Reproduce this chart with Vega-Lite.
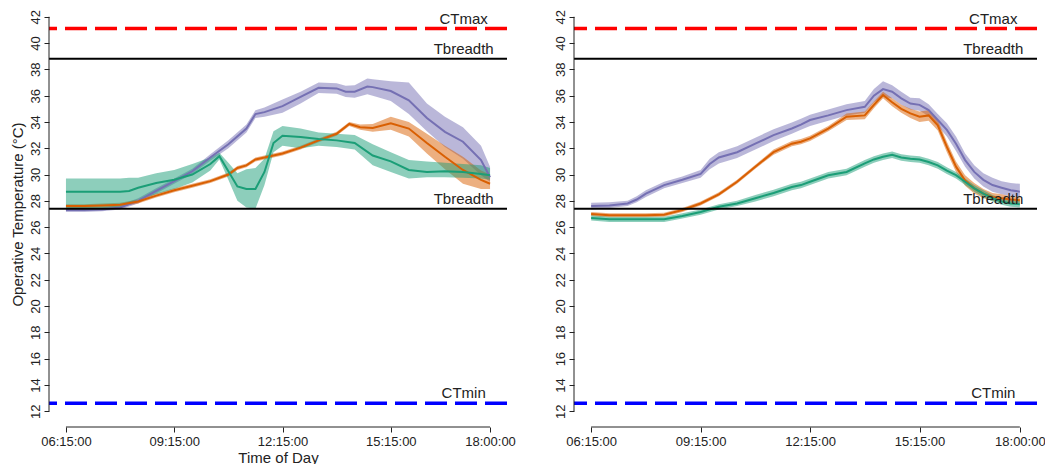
{
  "$schema": "https://vega.github.io/schema/vega-lite/v6.json",
  "padding": {"left": 9, "top": 1, "right": 4, "bottom": 0},
  "spacing": 37,
  "config": {
    "view": {"stroke": null},
    "font": "Liberation Sans",
    "axis": {
      "labelFont": "Liberation Sans", "labelFontSize": 13, "labelColor": "#222", "labelOverlap": false,
      "titleFont": "Liberation Sans", "titleFontSize": 15, "titleFontWeight": "normal", "titleColor": "#222",
      "tickColor": "#222", "tickSize": 5, "grid": false, "domain": false
    }
  },
  "datasets": {
    "refs": [
      {"label": "CTmax", "v": 41.1},
      {"label": "Tbreadth", "v": 38.8},
      {"label": "Tbreadth", "v": 27.4},
      {"label": "CTmin", "v": 12.6}
    ],
    "left": [
      {"s": "P", "t": 6.25, "m": 27.3, "lo": 27.15, "hi": 27.45},
      {"s": "P", "t": 6.75, "m": 27.3, "lo": 27.15, "hi": 27.45},
      {"s": "P", "t": 7.25, "m": 27.35, "lo": 27.2, "hi": 27.5},
      {"s": "P", "t": 7.75, "m": 27.5, "lo": 27.35, "hi": 27.7},
      {"s": "P", "t": 8.25, "m": 28.0, "lo": 27.8, "hi": 28.2},
      {"s": "P", "t": 8.75, "m": 28.75, "lo": 28.55, "hi": 28.95},
      {"s": "P", "t": 9.25, "m": 29.5, "lo": 29.3, "hi": 29.7},
      {"s": "P", "t": 9.75, "m": 30.25, "lo": 30.05, "hi": 30.45},
      {"s": "P", "t": 10.25, "m": 31.3, "lo": 31.05, "hi": 31.55},
      {"s": "P", "t": 10.75, "m": 32.3, "lo": 32.0, "hi": 32.6},
      {"s": "P", "t": 11.25, "m": 33.5, "lo": 33.2, "hi": 33.8},
      {"s": "P", "t": 11.5, "m": 34.6, "lo": 34.3, "hi": 34.9},
      {"s": "P", "t": 11.75, "m": 34.75, "lo": 34.4, "hi": 35.1},
      {"s": "P", "t": 12.25, "m": 35.2, "lo": 34.7, "hi": 35.7},
      {"s": "P", "t": 12.75, "m": 35.9, "lo": 35.4, "hi": 36.3},
      {"s": "P", "t": 13.25, "m": 36.6, "lo": 36.2, "hi": 37.0},
      {"s": "P", "t": 13.75, "m": 36.55, "lo": 36.15, "hi": 36.95},
      {"s": "P", "t": 14.0, "m": 36.3, "lo": 35.9, "hi": 36.75},
      {"s": "P", "t": 14.25, "m": 36.3, "lo": 35.85, "hi": 36.8},
      {"s": "P", "t": 14.6, "m": 36.7, "lo": 36.1, "hi": 37.3},
      {"s": "P", "t": 14.75, "m": 36.65, "lo": 36.0, "hi": 37.25},
      {"s": "P", "t": 15.25, "m": 36.35, "lo": 35.6, "hi": 37.1},
      {"s": "P", "t": 15.75, "m": 35.65, "lo": 34.6, "hi": 37.0},
      {"s": "P", "t": 16.25, "m": 34.3, "lo": 33.3, "hi": 35.4},
      {"s": "P", "t": 16.75, "m": 33.25, "lo": 32.1, "hi": 34.4},
      {"s": "P", "t": 17.25, "m": 32.5, "lo": 31.2, "hi": 33.6},
      {"s": "P", "t": 17.75, "m": 31.1, "lo": 29.95, "hi": 32.2},
      {"s": "P", "t": 18.0, "m": 29.8, "lo": 29.45, "hi": 30.6},

      {"s": "O", "t": 6.25, "m": 27.6, "lo": 27.45, "hi": 27.75},
      {"s": "O", "t": 6.75, "m": 27.6, "lo": 27.45, "hi": 27.75},
      {"s": "O", "t": 7.25, "m": 27.65, "lo": 27.5, "hi": 27.8},
      {"s": "O", "t": 7.75, "m": 27.7, "lo": 27.55, "hi": 27.85},
      {"s": "O", "t": 8.25, "m": 27.95, "lo": 27.8, "hi": 28.1},
      {"s": "O", "t": 8.75, "m": 28.4, "lo": 28.25, "hi": 28.55},
      {"s": "O", "t": 9.25, "m": 28.8, "lo": 28.65, "hi": 28.95},
      {"s": "O", "t": 9.75, "m": 29.15, "lo": 29.0, "hi": 29.3},
      {"s": "O", "t": 10.25, "m": 29.5, "lo": 29.35, "hi": 29.65},
      {"s": "O", "t": 10.75, "m": 30.0, "lo": 29.85, "hi": 30.15},
      {"s": "O", "t": 11.0, "m": 30.5, "lo": 30.35, "hi": 30.65},
      {"s": "O", "t": 11.25, "m": 30.7, "lo": 30.55, "hi": 30.85},
      {"s": "O", "t": 11.5, "m": 31.15, "lo": 31.0, "hi": 31.3},
      {"s": "O", "t": 11.75, "m": 31.3, "lo": 31.15, "hi": 31.45},
      {"s": "O", "t": 12.25, "m": 31.6, "lo": 31.45, "hi": 31.75},
      {"s": "O", "t": 12.75, "m": 32.05, "lo": 31.9, "hi": 32.2},
      {"s": "O", "t": 13.25, "m": 32.6, "lo": 32.45, "hi": 32.75},
      {"s": "O", "t": 13.75, "m": 33.1, "lo": 32.95, "hi": 33.25},
      {"s": "O", "t": 14.1, "m": 33.85, "lo": 33.7, "hi": 34.0},
      {"s": "O", "t": 14.4, "m": 33.6, "lo": 33.4, "hi": 33.8},
      {"s": "O", "t": 14.75, "m": 33.55, "lo": 33.25, "hi": 33.85},
      {"s": "O", "t": 15.25, "m": 33.9, "lo": 33.4, "hi": 34.4},
      {"s": "O", "t": 15.75, "m": 33.5, "lo": 32.9, "hi": 34.0},
      {"s": "O", "t": 16.25, "m": 32.4, "lo": 31.6, "hi": 33.1},
      {"s": "O", "t": 16.75, "m": 31.35, "lo": 30.4, "hi": 32.2},
      {"s": "O", "t": 17.25, "m": 30.35, "lo": 29.3, "hi": 31.35},
      {"s": "O", "t": 17.75, "m": 29.6, "lo": 28.9, "hi": 30.3},
      {"s": "O", "t": 18.0, "m": 29.3, "lo": 28.9, "hi": 30.0},

      {"s": "G", "t": 6.25, "m": 28.7, "lo": 27.45, "hi": 29.7},
      {"s": "G", "t": 6.75, "m": 28.7, "lo": 27.45, "hi": 29.7},
      {"s": "G", "t": 7.25, "m": 28.7, "lo": 27.45, "hi": 29.7},
      {"s": "G", "t": 7.75, "m": 28.7, "lo": 27.5, "hi": 29.7},
      {"s": "G", "t": 8.0, "m": 28.75, "lo": 27.7, "hi": 29.75},
      {"s": "G", "t": 8.25, "m": 29.0, "lo": 28.1, "hi": 29.75},
      {"s": "G", "t": 8.75, "m": 29.35, "lo": 28.5, "hi": 30.1},
      {"s": "G", "t": 9.25, "m": 29.6, "lo": 28.9, "hi": 30.35},
      {"s": "G", "t": 9.75, "m": 30.0, "lo": 29.4, "hi": 30.8},
      {"s": "G", "t": 10.25, "m": 30.8, "lo": 30.3, "hi": 31.3},
      {"s": "G", "t": 10.5, "m": 31.4, "lo": 31.15, "hi": 31.65},
      {"s": "G", "t": 10.75, "m": 30.25, "lo": 29.6, "hi": 30.9},
      {"s": "G", "t": 11.0, "m": 29.1, "lo": 28.0, "hi": 30.1},
      {"s": "G", "t": 11.25, "m": 28.9, "lo": 27.5, "hi": 30.4},
      {"s": "G", "t": 11.5, "m": 28.9, "lo": 27.4, "hi": 30.5},
      {"s": "G", "t": 11.75, "m": 30.2, "lo": 29.2, "hi": 31.2},
      {"s": "G", "t": 12.0, "m": 32.4, "lo": 31.7, "hi": 33.3},
      {"s": "G", "t": 12.25, "m": 32.95, "lo": 32.2, "hi": 33.7},
      {"s": "G", "t": 12.75, "m": 32.85, "lo": 32.0, "hi": 33.5},
      {"s": "G", "t": 13.25, "m": 32.7, "lo": 32.2, "hi": 33.2},
      {"s": "G", "t": 13.75, "m": 32.6, "lo": 32.1, "hi": 33.1},
      {"s": "G", "t": 14.25, "m": 32.4, "lo": 31.9, "hi": 33.0},
      {"s": "G", "t": 14.75, "m": 31.45, "lo": 30.7, "hi": 32.3},
      {"s": "G", "t": 15.25, "m": 31.0, "lo": 30.2, "hi": 31.7},
      {"s": "G", "t": 15.75, "m": 30.35, "lo": 29.7, "hi": 31.1},
      {"s": "G", "t": 16.25, "m": 30.2, "lo": 29.8, "hi": 31.0},
      {"s": "G", "t": 16.75, "m": 30.25, "lo": 29.8, "hi": 30.9},
      {"s": "G", "t": 17.25, "m": 30.2, "lo": 29.75, "hi": 30.8},
      {"s": "G", "t": 17.75, "m": 30.05, "lo": 29.7, "hi": 30.7},
      {"s": "G", "t": 18.0, "m": 29.95, "lo": 29.6, "hi": 30.5}
    ],
    "right": [
      {"s": "P", "t": 6.25, "m": 27.6, "lo": 27.35, "hi": 27.85},
      {"s": "P", "t": 6.75, "m": 27.65, "lo": 27.45, "hi": 27.9},
      {"s": "P", "t": 7.25, "m": 27.8, "lo": 27.6, "hi": 28.0},
      {"s": "P", "t": 7.5, "m": 28.1, "lo": 27.9, "hi": 28.35},
      {"s": "P", "t": 7.75, "m": 28.55, "lo": 28.3, "hi": 28.8},
      {"s": "P", "t": 8.25, "m": 29.2, "lo": 28.95, "hi": 29.45},
      {"s": "P", "t": 8.75, "m": 29.6, "lo": 29.35, "hi": 29.85},
      {"s": "P", "t": 9.25, "m": 30.05, "lo": 29.75, "hi": 30.35},
      {"s": "P", "t": 9.5, "m": 30.8, "lo": 30.4, "hi": 31.2},
      {"s": "P", "t": 9.75, "m": 31.3, "lo": 30.85, "hi": 31.7},
      {"s": "P", "t": 10.25, "m": 31.7, "lo": 31.25, "hi": 32.15},
      {"s": "P", "t": 10.75, "m": 32.35, "lo": 31.9, "hi": 32.8},
      {"s": "P", "t": 11.25, "m": 33.0, "lo": 32.55, "hi": 33.45},
      {"s": "P", "t": 11.75, "m": 33.5, "lo": 33.1, "hi": 33.95},
      {"s": "P", "t": 12.0, "m": 33.8, "lo": 33.4, "hi": 34.25},
      {"s": "P", "t": 12.25, "m": 34.15, "lo": 33.7, "hi": 34.55},
      {"s": "P", "t": 12.75, "m": 34.5, "lo": 34.1, "hi": 34.95},
      {"s": "P", "t": 13.25, "m": 34.9, "lo": 34.5, "hi": 35.35},
      {"s": "P", "t": 13.75, "m": 35.15, "lo": 34.7, "hi": 35.6},
      {"s": "P", "t": 14.0, "m": 36.0, "lo": 35.5, "hi": 36.5},
      {"s": "P", "t": 14.25, "m": 36.5, "lo": 35.9, "hi": 37.1},
      {"s": "P", "t": 14.5, "m": 36.3, "lo": 35.8, "hi": 36.8},
      {"s": "P", "t": 14.75, "m": 35.8, "lo": 35.3, "hi": 36.3},
      {"s": "P", "t": 15.0, "m": 35.4, "lo": 34.95, "hi": 35.85},
      {"s": "P", "t": 15.25, "m": 35.3, "lo": 34.85, "hi": 35.8},
      {"s": "P", "t": 15.5, "m": 34.9, "lo": 34.45, "hi": 35.35},
      {"s": "P", "t": 15.75, "m": 34.15, "lo": 33.7, "hi": 34.6},
      {"s": "P", "t": 16.0, "m": 33.4, "lo": 32.9, "hi": 33.9},
      {"s": "P", "t": 16.25, "m": 32.35, "lo": 31.8, "hi": 32.9},
      {"s": "P", "t": 16.5, "m": 31.1, "lo": 30.6, "hi": 31.6},
      {"s": "P", "t": 16.75, "m": 30.2, "lo": 29.7, "hi": 30.7},
      {"s": "P", "t": 17.0, "m": 29.6, "lo": 29.1, "hi": 30.1},
      {"s": "P", "t": 17.25, "m": 29.2, "lo": 28.7, "hi": 29.75},
      {"s": "P", "t": 17.5, "m": 29.0, "lo": 28.5, "hi": 29.5},
      {"s": "P", "t": 17.75, "m": 28.8, "lo": 28.35, "hi": 29.35},
      {"s": "P", "t": 18.0, "m": 28.7, "lo": 28.3, "hi": 29.3},

      {"s": "O", "t": 6.25, "m": 27.0, "lo": 26.85, "hi": 27.15},
      {"s": "O", "t": 6.75, "m": 26.9, "lo": 26.75, "hi": 27.05},
      {"s": "O", "t": 7.25, "m": 26.9, "lo": 26.75, "hi": 27.05},
      {"s": "O", "t": 7.75, "m": 26.9, "lo": 26.75, "hi": 27.05},
      {"s": "O", "t": 8.25, "m": 26.95, "lo": 26.8, "hi": 27.1},
      {"s": "O", "t": 8.75, "m": 27.3, "lo": 27.15, "hi": 27.45},
      {"s": "O", "t": 9.25, "m": 27.8, "lo": 27.65, "hi": 27.95},
      {"s": "O", "t": 9.75, "m": 28.5, "lo": 28.35, "hi": 28.65},
      {"s": "O", "t": 10.25, "m": 29.45, "lo": 29.3, "hi": 29.6},
      {"s": "O", "t": 10.75, "m": 30.6, "lo": 30.45, "hi": 30.75},
      {"s": "O", "t": 11.25, "m": 31.7, "lo": 31.5, "hi": 31.9},
      {"s": "O", "t": 11.75, "m": 32.35, "lo": 32.15, "hi": 32.55},
      {"s": "O", "t": 12.0, "m": 32.5, "lo": 32.3, "hi": 32.7},
      {"s": "O", "t": 12.25, "m": 32.75, "lo": 32.55, "hi": 32.95},
      {"s": "O", "t": 12.75, "m": 33.5, "lo": 33.3, "hi": 33.7},
      {"s": "O", "t": 13.25, "m": 34.4, "lo": 34.15, "hi": 34.65},
      {"s": "O", "t": 13.75, "m": 34.5, "lo": 34.2, "hi": 34.8},
      {"s": "O", "t": 14.0, "m": 35.3, "lo": 35.05, "hi": 35.55},
      {"s": "O", "t": 14.25, "m": 36.05, "lo": 35.8, "hi": 36.3},
      {"s": "O", "t": 14.5, "m": 35.5, "lo": 35.2, "hi": 35.8},
      {"s": "O", "t": 14.75, "m": 35.0, "lo": 34.7, "hi": 35.3},
      {"s": "O", "t": 15.0, "m": 34.65, "lo": 34.3, "hi": 35.0},
      {"s": "O", "t": 15.25, "m": 34.4, "lo": 34.0, "hi": 34.8},
      {"s": "O", "t": 15.5, "m": 34.5, "lo": 34.1, "hi": 34.9},
      {"s": "O", "t": 15.75, "m": 33.75, "lo": 33.35, "hi": 34.15},
      {"s": "O", "t": 16.0, "m": 32.1, "lo": 31.7, "hi": 32.5},
      {"s": "O", "t": 16.25, "m": 30.6, "lo": 30.2, "hi": 31.0},
      {"s": "O", "t": 16.5, "m": 29.55, "lo": 29.15, "hi": 29.95},
      {"s": "O", "t": 16.75, "m": 28.95, "lo": 28.55, "hi": 29.35},
      {"s": "O", "t": 17.0, "m": 28.55, "lo": 28.2, "hi": 28.9},
      {"s": "O", "t": 17.25, "m": 28.3, "lo": 28.0, "hi": 28.6},
      {"s": "O", "t": 17.5, "m": 28.2, "lo": 27.9, "hi": 28.5},
      {"s": "O", "t": 17.75, "m": 28.1, "lo": 27.85, "hi": 28.35},
      {"s": "O", "t": 18.0, "m": 28.05, "lo": 27.8, "hi": 28.3},

      {"s": "G", "t": 6.25, "m": 26.7, "lo": 26.5, "hi": 26.9},
      {"s": "G", "t": 6.75, "m": 26.6, "lo": 26.4, "hi": 26.8},
      {"s": "G", "t": 7.25, "m": 26.6, "lo": 26.4, "hi": 26.8},
      {"s": "G", "t": 7.75, "m": 26.6, "lo": 26.4, "hi": 26.8},
      {"s": "G", "t": 8.25, "m": 26.6, "lo": 26.4, "hi": 26.8},
      {"s": "G", "t": 8.75, "m": 26.85, "lo": 26.65, "hi": 27.05},
      {"s": "G", "t": 9.25, "m": 27.15, "lo": 26.95, "hi": 27.35},
      {"s": "G", "t": 9.75, "m": 27.55, "lo": 27.35, "hi": 27.75},
      {"s": "G", "t": 10.25, "m": 27.8, "lo": 27.6, "hi": 28.0},
      {"s": "G", "t": 10.75, "m": 28.2, "lo": 27.95, "hi": 28.45},
      {"s": "G", "t": 11.25, "m": 28.6, "lo": 28.35, "hi": 28.85},
      {"s": "G", "t": 11.75, "m": 29.05, "lo": 28.8, "hi": 29.3},
      {"s": "G", "t": 12.0, "m": 29.2, "lo": 28.95, "hi": 29.45},
      {"s": "G", "t": 12.25, "m": 29.45, "lo": 29.2, "hi": 29.7},
      {"s": "G", "t": 12.75, "m": 29.95, "lo": 29.7, "hi": 30.2},
      {"s": "G", "t": 13.25, "m": 30.2, "lo": 29.95, "hi": 30.45},
      {"s": "G", "t": 13.75, "m": 30.85, "lo": 30.6, "hi": 31.1},
      {"s": "G", "t": 14.0, "m": 31.15, "lo": 30.9, "hi": 31.4},
      {"s": "G", "t": 14.25, "m": 31.35, "lo": 31.1, "hi": 31.6},
      {"s": "G", "t": 14.5, "m": 31.5, "lo": 31.25, "hi": 31.75},
      {"s": "G", "t": 14.75, "m": 31.3, "lo": 31.05, "hi": 31.55},
      {"s": "G", "t": 15.0, "m": 31.2, "lo": 30.95, "hi": 31.45},
      {"s": "G", "t": 15.25, "m": 31.15, "lo": 30.9, "hi": 31.4},
      {"s": "G", "t": 15.5, "m": 30.95, "lo": 30.7, "hi": 31.2},
      {"s": "G", "t": 15.75, "m": 30.7, "lo": 30.45, "hi": 30.95},
      {"s": "G", "t": 16.0, "m": 30.3, "lo": 30.05, "hi": 30.55},
      {"s": "G", "t": 16.25, "m": 29.95, "lo": 29.7, "hi": 30.2},
      {"s": "G", "t": 16.5, "m": 29.45, "lo": 29.2, "hi": 29.7},
      {"s": "G", "t": 16.75, "m": 28.95, "lo": 28.7, "hi": 29.2},
      {"s": "G", "t": 17.0, "m": 28.55, "lo": 28.3, "hi": 28.8},
      {"s": "G", "t": 17.25, "m": 28.2, "lo": 27.95, "hi": 28.45},
      {"s": "G", "t": 17.5, "m": 27.95, "lo": 27.7, "hi": 28.2},
      {"s": "G", "t": 17.75, "m": 27.8, "lo": 27.55, "hi": 28.05},
      {"s": "G", "t": 18.0, "m": 27.75, "lo": 27.5, "hi": 28.0}
    ]
  },
  "hconcat": [
    {
      "width": 458, "height": 426,
      "data": {"name": "left"},
      "layer": [
        {
          "mark": {"type": "area", "opacity": 0.5},
          "encoding": {
            "x": {"field": "t", "type": "quantitative", "scale": {"domain": [5.78, 18.47], "nice": false, "zero": false},
              "axis": {"values": [6.25, 9.25, 12.25, 15.25, 18], "title": "Time of Day", "labelPadding": 3, "titlePadding": 2, "labelOverlap": false,
                "labelExpr": "datum.value == 6.25 ? '06:15:00' : datum.value == 9.25 ? '09:15:00' : datum.value == 12.25 ? '12:15:00' : datum.value == 15.25 ? '15:15:00' : '18:00:00'"}},
            "y": {"field": "lo", "type": "quantitative", "scale": {"domain": [10.8, 43.2], "nice": false, "zero": false},
              "axis": {"values": [12, 14, 16, 18, 20, 22, 24, 26, 28, 30, 32, 34, 36, 38, 40, 42], "tickCount": 16, "title": "Operative Temperature (°C)", "labelOverlap": false,
                "labelAngle": -90, "labelAlign": "center", "labelBaseline": "bottom", "labelPadding": 2, "titlePadding": 4}},
            "y2": {"field": "hi"},
            "color": {"field": "s", "type": "nominal", "scale": {"domain": ["P", "O", "G"], "range": ["#7570B3", "#D95F02", "#1B9E77"]}, "legend": null}
          }
        },
        {
          "mark": {"type": "line", "strokeWidth": 2},
          "encoding": {
            "x": {"field": "t", "type": "quantitative"},
            "y": {"field": "m", "type": "quantitative"},
            "color": {"field": "s", "type": "nominal", "legend": null}
          }
        },
        {
          "data": {"name": "refs"},
          "transform": [{"filter": "datum.label == 'Tbreadth'"}],
          "mark": {"type": "rule", "color": "#000", "strokeWidth": 2},
          "encoding": {"y": {"field": "v", "type": "quantitative"}}
        },
        {
          "data": {"name": "refs"},
          "transform": [{"filter": "datum.label == 'CTmax'"}],
          "mark": {"type": "rule", "color": "#FF0000", "strokeWidth": 3.5, "strokeDash": [22, 8]},
          "encoding": {"y": {"field": "v", "type": "quantitative"}}
        },
        {
          "data": {"name": "refs"},
          "transform": [{"filter": "datum.label == 'CTmin'"}],
          "mark": {"type": "rule", "color": "#0000FF", "strokeWidth": 3.5, "strokeDash": [22, 8]},
          "encoding": {"y": {"field": "v", "type": "quantitative"}}
        },
        {
          "data": {"name": "refs"},
          "mark": {"type": "text", "font": "Liberation Sans", "fontSize": 15, "color": "#222", "align": "center", "baseline": "alphabetic", "dy": -5},
          "encoding": {"x": {"datum": 17.27}, "y": {"field": "v", "type": "quantitative"}, "text": {"field": "label"}}
        },
        {
          "data": {"values": [{}]},
          "mark": {"type": "rule", "color": "#222", "strokeWidth": 1},
          "encoding": {"x": {"datum": 6.25}, "x2": {"datum": 18}, "y": {"datum": 10.8}}
        },
        {
          "data": {"values": [{}]},
          "mark": {"type": "rule", "color": "#222", "strokeWidth": 1},
          "encoding": {"x": {"datum": 5.78}, "y": {"datum": 12}, "y2": {"datum": 42}}
        }
      ]
    },
    {
      "width": 463, "height": 426,
      "data": {"name": "right"},
      "layer": [
        {
          "mark": {"type": "area", "opacity": 0.5},
          "encoding": {
            "x": {"field": "t", "type": "quantitative", "scale": {"domain": [5.78, 18.47], "nice": false, "zero": false},
              "axis": {"values": [6.25, 9.25, 12.25, 15.25, 18], "title": null, "labelPadding": 3, "labelOverlap": false,
                "labelExpr": "datum.value == 6.25 ? '06:15:00' : datum.value == 9.25 ? '09:15:00' : datum.value == 12.25 ? '12:15:00' : datum.value == 15.25 ? '15:15:00' : '18:00:00'"}},
            "y": {"field": "lo", "type": "quantitative", "scale": {"domain": [10.8, 43.2], "nice": false, "zero": false},
              "axis": {"values": [12, 14, 16, 18, 20, 22, 24, 26, 28, 30, 32, 34, 36, 38, 40, 42], "tickCount": 16, "title": null, "labelOverlap": false,
                "labelAngle": -90, "labelAlign": "center", "labelBaseline": "bottom", "labelPadding": 2}},
            "y2": {"field": "hi"},
            "color": {"field": "s", "type": "nominal", "scale": {"domain": ["P", "O", "G"], "range": ["#7570B3", "#D95F02", "#1B9E77"]}, "legend": null}
          }
        },
        {
          "mark": {"type": "line", "strokeWidth": 2},
          "encoding": {
            "x": {"field": "t", "type": "quantitative"},
            "y": {"field": "m", "type": "quantitative"},
            "color": {"field": "s", "type": "nominal", "legend": null}
          }
        },
        {
          "data": {"name": "refs"},
          "transform": [{"filter": "datum.label == 'Tbreadth'"}],
          "mark": {"type": "rule", "color": "#000", "strokeWidth": 2},
          "encoding": {"y": {"field": "v", "type": "quantitative"}}
        },
        {
          "data": {"name": "refs"},
          "transform": [{"filter": "datum.label == 'CTmax'"}],
          "mark": {"type": "rule", "color": "#FF0000", "strokeWidth": 3.5, "strokeDash": [22, 8]},
          "encoding": {"y": {"field": "v", "type": "quantitative"}}
        },
        {
          "data": {"name": "refs"},
          "transform": [{"filter": "datum.label == 'CTmin'"}],
          "mark": {"type": "rule", "color": "#0000FF", "strokeWidth": 3.5, "strokeDash": [22, 8]},
          "encoding": {"y": {"field": "v", "type": "quantitative"}}
        },
        {
          "data": {"name": "refs"},
          "mark": {"type": "text", "font": "Liberation Sans", "fontSize": 15, "color": "#222", "align": "center", "baseline": "alphabetic", "dy": -5},
          "encoding": {"x": {"datum": 17.27}, "y": {"field": "v", "type": "quantitative"}, "text": {"field": "label"}}
        },
        {
          "data": {"values": [{}]},
          "mark": {"type": "rule", "color": "#222", "strokeWidth": 1},
          "encoding": {"x": {"datum": 6.25}, "x2": {"datum": 18}, "y": {"datum": 10.8}}
        },
        {
          "data": {"values": [{}]},
          "mark": {"type": "rule", "color": "#222", "strokeWidth": 1},
          "encoding": {"x": {"datum": 5.78}, "y": {"datum": 12}, "y2": {"datum": 42}}
        }
      ]
    }
  ]
}
